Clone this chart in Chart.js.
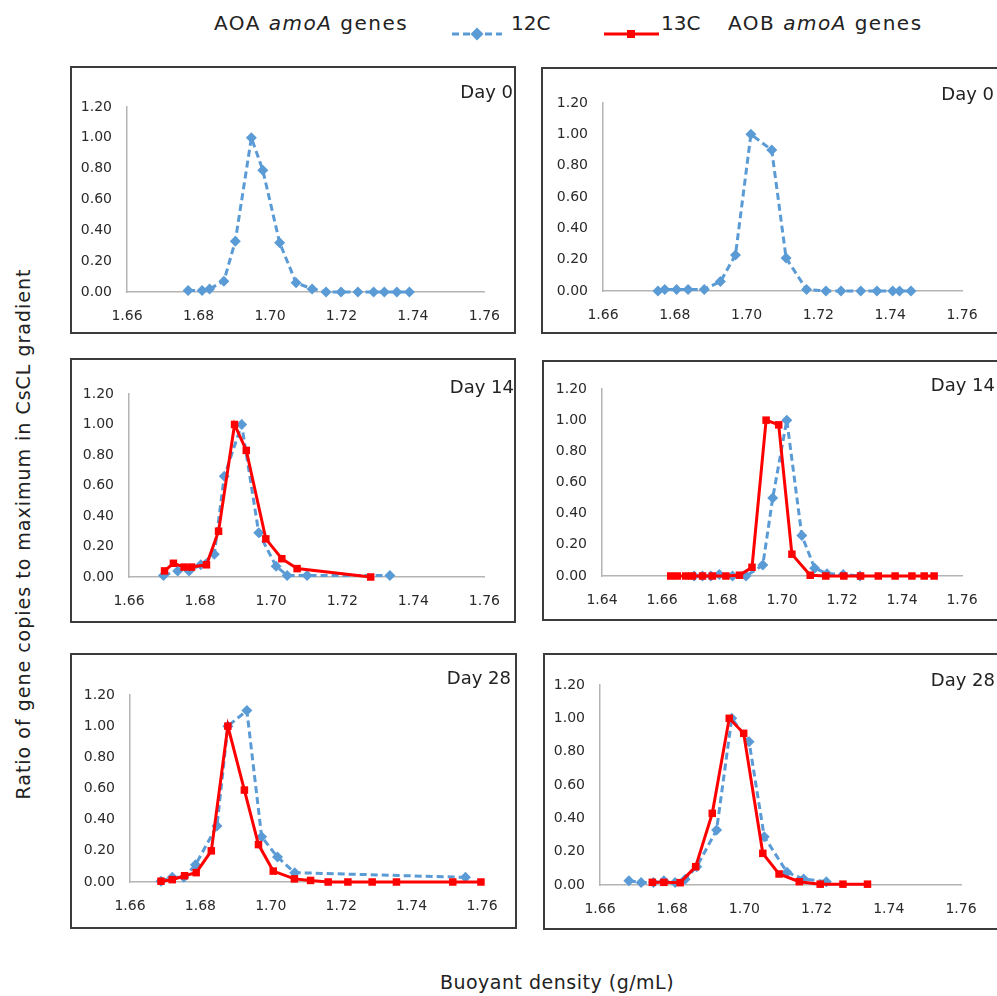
<!DOCTYPE html>
<html>
<head>
<meta charset="utf-8">
<script src="https://cdn.jsdelivr.net/npm/chart.js@4"></script>
<style>
  html, body { margin: 0; padding: 0; background: #fff; }
  body { width: 997px; height: 996px; position: relative; overflow: hidden; font-family: 'DejaVu Sans', sans-serif; color: #222; }
  .box { position: absolute; box-sizing: border-box; border: 2px solid #3c3c3c; pointer-events: none; }
  canvas { position: absolute; }
  .day { position: absolute; font-size: 18px; text-align: right; width: 100px; line-height: 20px; }
  .txt { position: absolute; white-space: nowrap; }
</style>
</head>
<body>

<div class="txt" style="left:214px; top:11px; font-size:20px; letter-spacing:1.5px;">AOA <i>amoA</i> genes</div>
<svg class="txt" style="left:450px; top:24px;" width="54" height="20">
  <line x1="2" y1="10" x2="52" y2="10" stroke="#5b9bd5" stroke-width="3" stroke-dasharray="7,4"/>
  <polygon points="27,3.5 33.5,10 27,16.5 20.5,10" fill="#5b9bd5"/>
</svg>
<div class="txt" style="left:511px; top:11px; font-size:20px;">12C</div>
<svg class="txt" style="left:602px; top:24px;" width="60" height="20">
  <line x1="2" y1="10" x2="57" y2="10" stroke="#ff0000" stroke-width="3"/>
  <rect x="25" y="6" width="8" height="8" fill="#ff0000"/>
</svg>
<div class="txt" style="left:661px; top:11px; font-size:20px;">13C</div>
<div class="txt" style="left:728px; top:11px; font-size:20px; letter-spacing:1.5px;">AOB <i>amoA</i> genes</div>

<div class="txt" style="left:23px; top:534px; font-size:19px; letter-spacing:1px; transform: translate(-50%, -50%) rotate(-90deg);">Ratio of gene copies to maximum in CsCL gradient</div>
<div class="txt" style="left:557px; top:982px; font-size:19px; letter-spacing:0.5px; transform: translate(-50%, -50%);">Buoyant density (g/mL)</div>

<script>
// AOA amoA, Day 0
const aoaD0Density12 = [1.6771, 1.6810, 1.6831, 1.6871, 1.6903, 1.6948, 1.6980, 1.7027, 1.7073, 1.7118, 1.7157, 1.7199, 1.7246, 1.7290, 1.7320, 1.7355, 1.7390];
const aoaD0Ratio12 = [0.01, 0.01, 0.02, 0.07, 0.33, 1.00, 0.79, 0.32, 0.06, 0.02, 0, 0, 0, 0, 0, 0, 0];

// AOB amoA, Day 0
const aobD0Density12 = [1.6753, 1.6772, 1.6805, 1.6837, 1.6882, 1.6927, 1.6969, 1.7012, 1.7070, 1.7110, 1.7167, 1.7221, 1.7263, 1.7318, 1.7363, 1.7407, 1.7426, 1.7458];
const aobD0Ratio12 = [0, 0.01, 0.01, 0.01, 0.01, 0.06, 0.23, 1.00, 0.90, 0.21, 0.01, 0, 0, 0, 0, 0, 0, 0];

// AOA amoA, Day 14
const aoaD14Density12 = [1.6697, 1.6737, 1.6769, 1.6802, 1.6840, 1.6868, 1.6917, 1.6965, 1.7014, 1.7045, 1.7101, 1.7334];
const aoaD14Ratio12 = [0.01, 0.04, 0.04, 0.08, 0.15, 0.66, 1.00, 0.29, 0.07, 0.01, 0.01, 0.01];
const aoaD14Density13 = [1.6700, 1.6725, 1.6755, 1.6776, 1.6818, 1.6852, 1.6897, 1.6930, 1.6985, 1.7030, 1.7073, 1.7280];
const aoaD14Ratio13 = [0.04, 0.09, 0.065, 0.065, 0.08, 0.30, 1.00, 0.83, 0.25, 0.12, 0.055, 0.00];

// AOB amoA, Day 14
const aobD14Density12 = [1.6707, 1.6735, 1.6763, 1.6791, 1.6835, 1.6880, 1.6936, 1.6969, 1.7016, 1.7066, 1.7109, 1.7150, 1.7204, 1.7260];
const aobD14Ratio12 = [0, 0, 0, 0.01, 0, 0, 0.07, 0.50, 1.00, 0.26, 0.05, 0.015, 0.01, 0];
const aobD14Density13 = [1.6629, 1.6651, 1.6679, 1.6701, 1.6735, 1.6768, 1.6813, 1.6858, 1.6900, 1.6947, 1.6989, 1.7033, 1.7094, 1.7146, 1.7206, 1.7262, 1.7321, 1.7377, 1.7433, 1.7474, 1.7507];
const aobD14Ratio13 = [0, 0, 0, 0, 0, 0, 0, 0.005, 0.056, 1.00, 0.97, 0.14, 0.005, 0, 0, 0, 0, 0, 0, 0, 0];

// AOA amoA, Day 28
const aoaD28Density12 = [1.6688, 1.6720, 1.6753, 1.6786, 1.6847, 1.6878, 1.6932, 1.6974, 1.7019, 1.7068, 1.7553];
const aoaD28Ratio12 = [0.005, 0.03, 0.03, 0.11, 0.36, 1.00, 1.10, 0.29, 0.16, 0.06, 0.03];
const aoaD28Density13 = [1.6688, 1.6720, 1.6755, 1.6788, 1.6831, 1.6878, 1.6925, 1.6965, 1.7007, 1.7067, 1.7113, 1.7163, 1.7219, 1.7288, 1.7357, 1.7517, 1.7597];
const aoaD28Ratio13 = [0.005, 0.015, 0.04, 0.06, 0.20, 1.00, 0.59, 0.24, 0.07, 0.02, 0.01, 0, 0, 0, 0, 0, 0];

// AOB amoA, Day 28
const aobD28Density12 = [1.6680, 1.6714, 1.6748, 1.6777, 1.6808, 1.6836, 1.6868, 1.6923, 1.6965, 1.7013, 1.7055, 1.7118, 1.7164, 1.7227];
const aobD28Ratio12 = [0.025, 0.015, 0.015, 0.025, 0.015, 0.035, 0.11, 0.33, 1.00, 0.86, 0.29, 0.076, 0.036, 0.02];
const aobD28Density13 = [1.6745, 1.6777, 1.6822, 1.6865, 1.6911, 1.6958, 1.6998, 1.7051, 1.7096, 1.7152, 1.7210, 1.7273, 1.7341];
const aobD28Ratio13 = [0.016, 0.016, 0.014, 0.11, 0.43, 1.00, 0.91, 0.19, 0.066, 0.02, 0.005, 0.005, 0.005];

const xTickStep = 0.02;
const yTickStep = 0.2;

Chart.defaults.font.family = "'DejaVu Sans', sans-serif";

const toPoints = (xs, ys) => xs.map((x, i) => ({ x: x, y: ys[i] }));

const series12 = (xs, ys) => ({
  label: '12C',
  data: toPoints(xs, ys),
  borderColor: '#5b9bd5',
  backgroundColor: '#5b9bd5',
  borderWidth: 3,
  borderDash: [7, 4],
  pointStyle: 'rectRot',
  pointRadius: 5.5,
  pointBorderWidth: 0,
  showLine: true,
  clip: false,
  order: 1,
});

const series13 = (xs, ys) => ({
  label: '13C',
  data: toPoints(xs, ys),
  borderColor: '#ff0000',
  backgroundColor: '#ff0000',
  borderWidth: 3,
  pointStyle: 'rect',
  pointRadius: 5.3,
  pointBorderWidth: 0,
  showLine: true,
  clip: false,
  order: 0,
});

// box = [left, top, right, bottom], plot = [left, top(1.20), right(1.76), bottom(0)]
const panels = [
  { box: [70, 66, 516, 334], plot: [127, 107, 485, 292], xMin: 1.66, day: 'Day 0', dayPos: [513, 82],
    datasets: [series12(aoaD0Density12, aoaD0Ratio12)] },
  { box: [541, 67, 999, 334], plot: [603, 103, 962, 291], xMin: 1.66, day: 'Day 0', dayPos: [994, 84],
    datasets: [series12(aobD0Density12, aobD0Ratio12)] },
  { box: [70, 358, 516, 623], plot: [129, 394, 485, 577], xMin: 1.66, day: 'Day 14', dayPos: [514, 377],
    datasets: [series12(aoaD14Density12, aoaD14Ratio12), series13(aoaD14Density13, aoaD14Ratio13)] },
  { box: [542, 360, 999, 621], plot: [602, 389, 962, 576], xMin: 1.64, day: 'Day 14', dayPos: [995, 375],
    datasets: [series12(aobD14Density12, aobD14Ratio12), series13(aobD14Density13, aobD14Ratio13)] },
  { box: [70, 653, 517, 929], plot: [130, 695, 482, 882], xMin: 1.66, day: 'Day 28', dayPos: [511, 668],
    datasets: [series12(aoaD28Density12, aoaD28Ratio12), series13(aoaD28Density13, aoaD28Ratio13)] },
  { box: [543, 653, 999, 930], plot: [600, 685, 961, 885], xMin: 1.66, day: 'Day 28', dayPos: [995, 670],
    datasets: [series12(aobD28Density12, aobD28Ratio12), series13(aobD28Density13, aobD28Ratio13)] },
];

panels.forEach((p) => {
  const [bl, bt, br, bb] = p.box;
  const [pl, pt, pr, pb] = p.plot;

  const canvas = document.createElement('canvas');
  canvas.width = br - bl;
  canvas.height = bb - bt;
  canvas.style.left = bl + 'px';
  canvas.style.top = bt + 'px';
  document.body.appendChild(canvas);

  const frame = document.createElement('div');
  frame.className = 'box';
  frame.style.left = bl + 'px';
  frame.style.top = bt + 'px';
  frame.style.width = (br - bl) + 'px';
  frame.style.height = (bb - bt) + 'px';
  document.body.appendChild(frame);

  const day = document.createElement('div');
  day.className = 'day';
  day.textContent = p.day;
  day.style.left = (p.dayPos[0] - 100) + 'px';
  day.style.top = p.dayPos[1] + 'px';
  document.body.appendChild(day);

  new Chart(canvas.getContext('2d'), {
    type: 'scatter',
    data: { datasets: p.datasets },
    options: {
      responsive: false,
      animation: false,
      layout: { padding: { left: 0, top: pt - bt, right: br - pr, bottom: 0 } },
      plugins: { legend: { display: false }, tooltip: { enabled: false } },
      scales: {
        x: {
          type: 'linear',
          min: p.xMin,
          max: 1.76,
          grid: { display: false, drawTicks: false },
          border: { display: true, color: '#b4b4b4', width: 1.5 },
          ticks: {
            stepSize: xTickStep,
            maxRotation: 0,
            autoSkip: false,
            padding: 16,
            color: '#2a2a2a',
            font: { size: 14 },
            callback: (v) => Number(v).toFixed(2),
          },
          afterFit: (s) => { s.height = bb - pb; },
        },
        y: {
          min: 0,
          max: 1.2,
          grid: { display: false, drawTicks: false },
          border: { display: true, color: '#b4b4b4', width: 1.5 },
          ticks: {
            stepSize: yTickStep,
            padding: 15,
            color: '#2a2a2a',
            font: { size: 14 },
            callback: (v) => Number(v).toFixed(2),
          },
          afterFit: (s) => { s.width = pl - bl; },
        },
      },
    },
  });
});
</script>
</body>
</html>
